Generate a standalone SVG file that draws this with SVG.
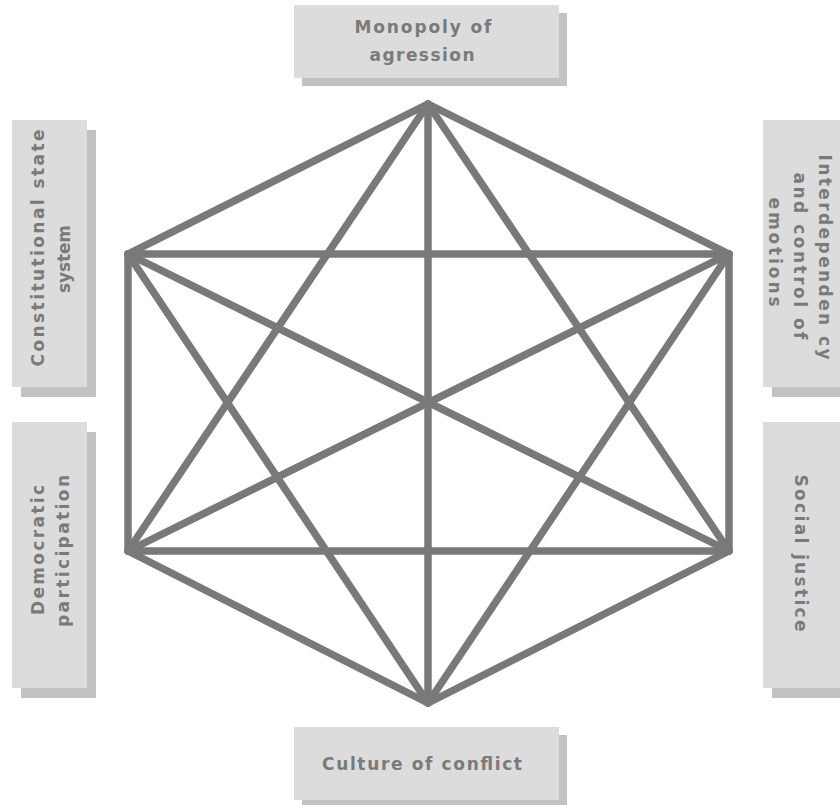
<svg xmlns="http://www.w3.org/2000/svg" width="840" height="805" viewBox="0 0 840 805">
<style>
.shadow{fill:#c2c2c2}
.box{fill:#dcdcdc}
.lbl{font-family:"DejaVu Sans","Liberation Sans",sans-serif;font-weight:bold;font-size:17px;fill:#7a7a7a;text-anchor:middle}
.edge{stroke:#797979;stroke-width:7.5;fill:none;stroke-linecap:round;stroke-linejoin:round}
</style>
<rect width="840" height="805" fill="#ffffff"/>
<g id="connectors" class="edge">
<polygon points="428,104 729,254 729,551 428,703 128,551 128,254"/>
<line x1="128" y1="254" x2="729" y2="254"/>
<line x1="128" y1="551" x2="729" y2="551"/>
<line x1="428" y1="104" x2="428" y2="703"/>
<line x1="128" y1="254" x2="729" y2="551"/>
<line x1="729" y1="254" x2="128" y2="551"/>
<line x1="428" y1="104" x2="128" y2="551"/>
<line x1="428" y1="104" x2="729" y2="551"/>
<line x1="428" y1="703" x2="128" y2="254"/>
<line x1="428" y1="703" x2="729" y2="254"/>
</g>
<g id="node-monopoly">
<rect class="shadow" x="302" y="13" width="265" height="73"/>
<rect class="box" x="294" y="5" width="265" height="73"/>
<text class="lbl" x="423" y="33" textLength="137" lengthAdjust="spacing">Monopoly of</text>
<text class="lbl" x="422" y="61" textLength="105" lengthAdjust="spacing">agression</text>
</g>
<g id="node-culture">
<rect class="shadow" x="302" y="735" width="265" height="73"/>
<rect class="box" x="294" y="727" width="265" height="73"/>
<text class="lbl" x="422" y="770" textLength="200" lengthAdjust="spacing">Culture of conflict</text>
</g>
<g id="node-constitutional">
<rect class="shadow" x="21" y="130" width="75" height="267"/>
<rect class="box" x="12" y="120" width="75" height="267"/>
<text class="lbl" transform="translate(44,248) rotate(-90)" x="0" y="0" textLength="237" lengthAdjust="spacing">Constitutional state</text>
<text class="lbl" transform="translate(70,259) rotate(-90)" x="0" y="0" textLength="68" lengthAdjust="spacing">system</text>
</g>
<g id="node-democratic">
<rect class="shadow" x="21" y="432" width="75" height="266"/>
<rect class="box" x="12" y="422" width="75" height="266"/>
<text class="lbl" transform="translate(44,550) rotate(-90)" x="0" y="0" textLength="130" lengthAdjust="spacing">Democratic</text>
<text class="lbl" transform="translate(69,551) rotate(-90)" x="0" y="0" textLength="152" lengthAdjust="spacing">participation</text>
</g>
<g id="node-interdependency">
<rect class="shadow" x="772" y="130" width="80" height="267"/>
<rect class="box" x="763" y="120" width="80" height="267"/>
<text class="lbl" transform="translate(819,257) rotate(90)" x="0" y="0" textLength="205" lengthAdjust="spacing">Interdependen cy</text>
<text class="lbl" transform="translate(794,256) rotate(90)" x="0" y="0" textLength="167" lengthAdjust="spacing">and control of</text>
<text class="lbl" transform="translate(769,252) rotate(90)" x="0" y="0" textLength="109" lengthAdjust="spacing">emotions</text>
</g>
<g id="node-social">
<rect class="shadow" x="772" y="432" width="80" height="266"/>
<rect class="box" x="763" y="422" width="80" height="266"/>
<text class="lbl" transform="translate(795,553) rotate(90)" x="0" y="0" textLength="157" lengthAdjust="spacing">Social justice</text>
</g>
</svg>
